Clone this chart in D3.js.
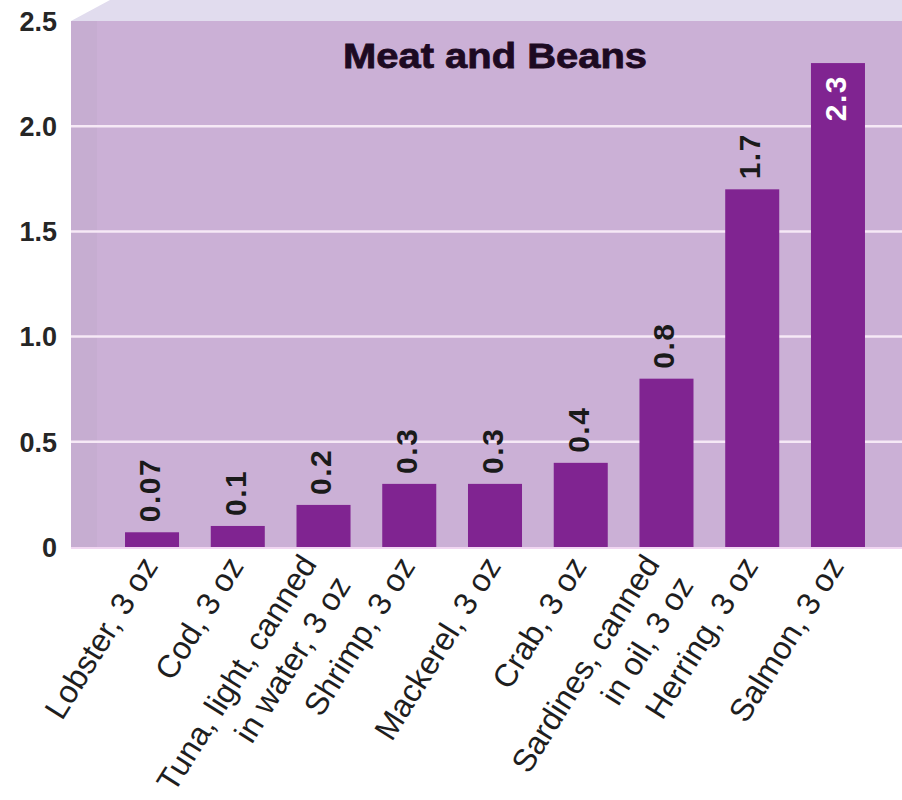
<!DOCTYPE html>
<html>
<head>
<meta charset="utf-8">
<script src="https://cdn.jsdelivr.net/npm/d3@7"></script>
<style>
  body { margin: 0; background: #fff; }
  svg { display: block; font-family: "Liberation Sans", Arial, sans-serif; }
</style>
</head>
<body>
<svg id="chart" width="902" height="800"></svg>
<script>
// data
var categories = ["Lobster", "Cod", "Tuna", "Shrimp", "Mackerel", "Crab", "Sardines", "Herring", "Salmon"];
var labelLines = [
  ["Lobster, 3 oz"],
  ["Cod, 3 oz"],
  ["Tuna, light, canned", "in water, 3 oz"],
  ["Shrimp, 3 oz"],
  ["Mackerel, 3 oz"],
  ["Crab, 3 oz"],
  ["Sardines, canned", "in oil, 3 oz"],
  ["Herring, 3 oz"],
  ["Salmon, 3 oz"]
];
var values = [0.07, 0.1, 0.2, 0.3, 0.3, 0.4, 0.8, 1.7, 2.3];
var valueLabels = ["0.07", "0.1", "0.2", "0.3", "0.3", "0.4", "0.8", "1.7", "2.3"];
var yTicks = [0, 0.5, 1.0, 1.5, 2.0, 2.5];
var yTickLabels = ["0", "0.5", "1.0", "1.5", "2.0", "2.5"];
var title = "Meat and Beans";

var svg = d3.select("#chart");
var pLeft = 71, pTop = 21, pBottom = 547, pRight = 902;

var y = d3.scaleLinear().domain([0, 2.5]).range([pBottom, pTop]);
var x = d3.scaleBand().domain(categories).range([pLeft, 919])
    .paddingInner(0.37).paddingOuter(0.63);

// back panel with slanted top face
svg.append("path")
    .attr("d", "M" + pLeft + "," + pTop + " L110,0 L" + pRight + ",0 L" + pRight + "," + pTop + " Z")
    .attr("fill", "#e1dcee");
svg.append("rect")
    .attr("x", pLeft).attr("y", pTop)
    .attr("width", pRight - pLeft).attr("height", pBottom - pTop)
    .attr("fill", "#cbb0d6");
svg.append("rect")
    .attr("x", pLeft).attr("y", pTop)
    .attr("width", 26).attr("height", pBottom - pTop)
    .attr("fill", "#c6add1");
svg.append("line")
    .attr("x1", pLeft).attr("x2", pRight)
    .attr("y1", pBottom + 1).attr("y2", pBottom + 1)
    .attr("stroke", "#f1d6f2").attr("stroke-width", 2);

// grid lines
svg.selectAll(".grid")
    .data(yTicks.filter(function(d) { return d > 0 && d < 2.5; }))
    .enter().append("line")
    .attr("x1", pLeft).attr("x2", pRight)
    .attr("y1", function(d) { return y(d); })
    .attr("y2", function(d) { return y(d); })
    .attr("stroke", "#f6e9f6").attr("stroke-width", 2.5);

// y tick labels
svg.selectAll(".ytick")
    .data(yTicks)
    .enter().append("text")
    .attr("x", 57)
    .attr("y", function(d) { return y(d); })
    .attr("dy", "0.36em")
    .attr("text-anchor", "end")
    .attr("font-size", 27).attr("font-weight", "bold")
    .attr("fill", "#262626")
    .text(function(d, i) { return yTickLabels[i]; });

// bars
svg.selectAll(".bar")
    .data(values)
    .enter().append("rect")
    .attr("x", function(d, i) { return x(categories[i]); })
    .attr("y", function(d) { return y(d); })
    .attr("width", x.bandwidth())
    .attr("height", function(d) { return pBottom - y(d); })
    .attr("fill", "#802491");

// value labels, rotated; the tallest one sits inside its bar
svg.selectAll(".val")
    .data(values)
    .enter().append("text")
    .attr("transform", function(d, i) {
      var cx = x(categories[i]) + x.bandwidth() / 2 - 3;
      var inside = d > 2.2;
      var ty = inside ? y(d) + 12 : y(d) - 10;
      return "translate(" + cx + "," + ty + ") rotate(-90)";
    })
    .attr("dy", "0.36em")
    .attr("text-anchor", function(d) { return d > 2.2 ? "end" : "start"; })
    .attr("font-size", 30).attr("font-weight", "bold")
    .attr("letter-spacing", 1.5)
    .attr("fill", function(d) { return d > 2.2 ? "#ffffff" : "#1a1a1a"; })
    .text(function(d, i) { return valueLabels[i]; });

// category labels at about -60 degrees
var cat = svg.selectAll(".cat")
    .data(labelLines)
    .enter().append("text")
    .attr("transform", function(d, i) {
      var cx = x(categories[i]) + x.bandwidth() / 2;
      return "translate(" + (cx + 7) + ",566) rotate(-58)";
    })
    .attr("text-anchor", "end")
    .attr("font-size", 32)
    .attr("fill", "#1e1e1e");

cat.selectAll("tspan")
    .data(function(d) { return d.map(function(t, j) { return {t: t, j: j, n: d.length}; }); })
    .enter().append("tspan")
    .attr("x", function(d) { return d.n > 1 ? -5 : 0; })
    .attr("y", function(d) { return d.n > 1 ? (d.j === 0 ? -12 : 28) : 0; })
    .text(function(d) { return d.t; });

// title
svg.append("text")
    .attr("x", 495).attr("y", 68)
    .attr("text-anchor", "middle")
    .attr("font-size", 35).attr("font-weight", "bold")
    .attr("textLength", 304).attr("lengthAdjust", "spacingAndGlyphs")
    .attr("stroke", "#1d0a22").attr("stroke-width", 0.8)
    .attr("fill", "#1d0a22")
    .text(title);
</script>
</body>
</html>
